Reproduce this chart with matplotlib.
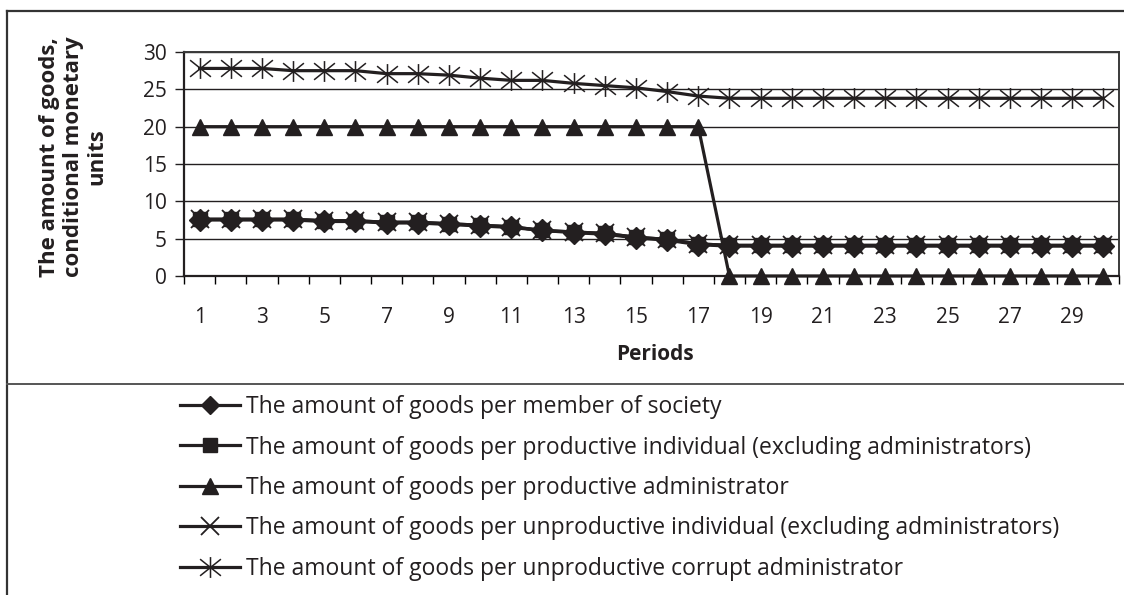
import matplotlib
matplotlib.use("Agg")
import matplotlib.pyplot as plt
from matplotlib.path import Path
from matplotlib.lines import Line2D
import numpy as np

plt.rcParams['font.family'] = ['Open Sans', 'DejaVu Sans']

periods = list(range(1, 31))
tick_labels = [str(p) for p in range(1, 30, 2)]

per_member = [7.5, 7.5, 7.5, 7.5, 7.3, 7.3, 7.1, 7.1, 6.9, 6.7, 6.5, 6.1, 5.8, 5.6, 5.1, 4.8, 4.2,
              4.0, 4.0, 4.0, 4.0, 4.0, 4.0, 4.0, 4.0, 4.0, 4.0, 4.0, 4.0, 4.0]
per_productive = [7.6, 7.6, 7.6, 7.6, 7.4, 7.4, 7.2, 7.2, 7.0, 6.8, 6.6, 6.1, 5.9, 5.7, 5.2, 4.9, 4.3,
                  4.1, 4.1, 4.1, 4.1, 4.1, 4.1, 4.1, 4.1, 4.1, 4.1, 4.1, 4.1, 4.1]
per_prod_admin = [20] * 17 + [0] * 13
per_unproductive = [7.6, 7.6, 7.6, 7.6, 7.4, 7.4, 7.2, 7.2, 7.0, 6.8, 6.6, 6.1, 5.9, 5.7, 5.2, 4.9, 4.3,
                    4.1, 4.1, 4.1, 4.1, 4.1, 4.1, 4.1, 4.1, 4.1, 4.1, 4.1, 4.1, 4.1]
per_corrupt_admin = [27.8, 27.8, 27.8, 27.5, 27.5, 27.5, 27.1, 27.1, 26.9, 26.5, 26.2, 26.2, 25.8, 25.5,
                     25.2, 24.7, 24.1, 23.8, 23.8, 23.8, 23.8, 23.8, 23.8, 23.8, 23.8, 23.8, 23.8, 23.8,
                     23.8, 23.8]

labels = [
    "The amount of goods per member of society",
    "The amount of goods per productive individual (excluding administrators)",
    "The amount of goods per productive administrator",
    "The amount of goods per unproductive individual (excluding administrators)",
    "The amount of goods per unproductive corrupt administrator",
]

# asterisk marker: vertical line + X
star = Path([(0, -1), (0, 1), (-1, -0.8), (1, 0.8), (-1, 0.8), (1, -0.8)],
            [Path.MOVETO, Path.LINETO, Path.MOVETO, Path.LINETO, Path.MOVETO, Path.LINETO])

W, H = 1124, 595
fig = plt.figure(figsize=(W / 100, H / 100), dpi=100)

def fx(px):
    return px / W

def fy(py):
    return 1 - py / H

ax = fig.add_axes([fx(184), fy(276), fx(1119) - fx(184), fy(52) - fy(276)])

ink = '#231f20'
lw = 2.3
series = [
    (per_member, dict(marker='D', ms=11)),
    (per_productive, dict(marker='s', ms=10)),
    (per_prod_admin, dict(marker='^', ms=12)),
    (per_unproductive, dict(marker='x', ms=13, mew=1.3)),
    (per_corrupt_admin, dict(marker=star, ms=15, mew=1.1)),
]
for (vals, st), lab in zip(series, labels):
    ax.plot(periods, vals, color=ink, lw=lw, mfc=ink, mec=ink, label=lab, clip_on=False,
            zorder=3, **st)

ax.set_xlim(0.5, 30.5)
ax.set_ylim(0, 30)
ax.set_yticks(range(0, 31, 5))
ax.tick_params(axis='y', direction='out', length=6.5, width=1.0, pad=6, labelsize=15, colors=ink)
ax.set_xticks(np.arange(0.5, 31, 1))
ax.set_xticklabels([])
ax.tick_params(axis='x', which='major', direction='out', length=5.5, width=1.0)
ax.set_xticks(range(1, 30, 2), minor=True)
ax.set_xticklabels(tick_labels, minor=True)
ax.tick_params(axis='x', which='minor', length=0, pad=22, labelsize=15, colors=ink)

ax.yaxis.grid(True, color=ink, lw=1.0)
ax.set_axisbelow(True)
for s in ['left', 'bottom']:
    ax.spines[s].set_color(ink)
    ax.spines[s].set_linewidth(1.6)
for s in ['top', 'right']:
    ax.spines[s].set_color('#3a3a3a')
    ax.spines[s].set_linewidth(1.4)

fig.text(fx(73), fy(157), "The amount of goods,\nconditional monetary\nunits", rotation=90,
         ha='center', va='center', fontsize=16, fontweight='bold', linespacing=1.15, color=ink)
fig.text(fx(655), fy(355), "Periods", ha='center', va='center', fontsize=15, fontweight='bold',
         color=ink)

# outer frame lines
fig.add_artist(Line2D([fx(7), fx(7)], [fy(11), 0], transform=fig.transFigure, color='#333333', lw=1.6))
fig.add_artist(Line2D([fx(7), 1], [fy(11), fy(11)], transform=fig.transFigure, color='#333333', lw=1.6))
fig.add_artist(Line2D([fx(7), 1], [fy(384), fy(384)], transform=fig.transFigure, color='#555555', lw=1.4))

leg_handles = []
for (vals, st), lab in zip(series, labels):
    st2 = dict(st)
    if st2['marker'] == 'D':
        st2['ms'] = 9
    leg_handles.append(Line2D([], [], color=ink, lw=lw, mfc=ink, mec=ink, **st2))
fig.legend(leg_handles, labels, loc='upper left', bbox_to_anchor=(fx(180), fy(395)),
           frameon=False, fontsize=16.5, handlelength=2.6, handletextpad=0.26, labelspacing=0.72,
           borderpad=0, borderaxespad=0, labelcolor=ink)

fig.savefig("out.png", dpi=100)
